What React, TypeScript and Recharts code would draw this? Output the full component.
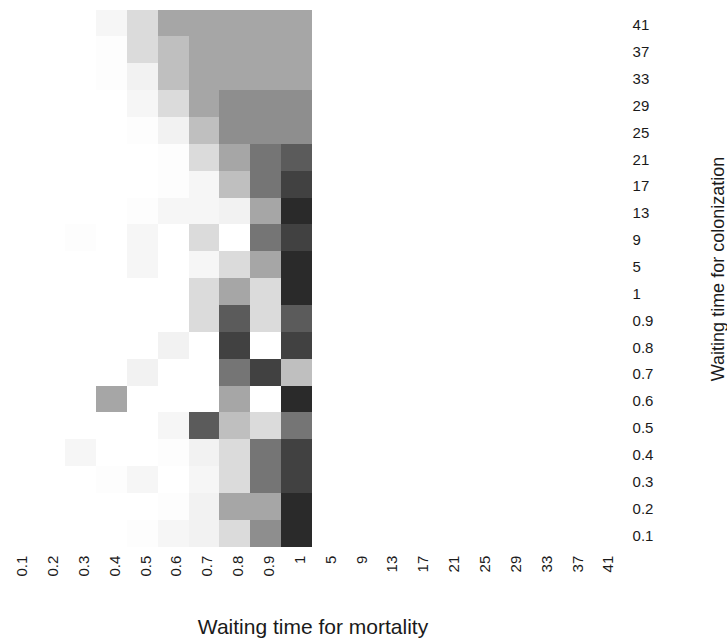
import React from 'react';
import { BarChart, Bar, XAxis, YAxis, Cell, Label } from 'recharts';

// Waiting time for mortality (columns, left to right)
const mortalityLabels = ['0.1', '0.2', '0.3', '0.4', '0.5', '0.6', '0.7', '0.8', '0.9', '1', '5', '9', '13', '17', '21', '25', '29', '33', '37', '41'];
// Waiting time for colonization (rows, bottom to top)
const colonizationLabels = ['0.1', '0.2', '0.3', '0.4', '0.5', '0.6', '0.7', '0.8', '0.9', '1', '5', '9', '13', '17', '21', '25', '29', '33', '37', '41'];

// Cell intensity (0 = white, 100 = darkest), rows from colonization 41 (top) down to 0.1 (bottom),
// columns mortality 0.1 .. 1 (no cells drawn for mortality 5 .. 41)
const row41 = [0, 0, 0, 4, 17, 42, 42, 42, 42, 42];
const row37 = [0, 0, 0, 1, 17, 30, 42, 42, 42, 42];
const row33 = [0, 0, 0, 1, 6, 30, 42, 42, 42, 42];
const row29 = [0, 0, 0, 0, 4, 17, 42, 53, 53, 53];
const row25 = [0, 0, 0, 0, 1, 6, 30, 53, 53, 53];
const row21 = [0, 0, 0, 0, 0, 1, 17, 42, 65, 77];
const row17 = [0, 0, 0, 0, 0, 1, 4, 30, 65, 89];
const row13 = [0, 0, 0, 0, 1, 4, 4, 6, 42, 100];
const row9 = [0, 0, 1, 0, 4, 0, 17, 0, 65, 89];
const row5 = [0, 0, 0, 0, 4, 0, 4, 17, 42, 100];
const row1 = [0, 0, 0, 0, 0, 0, 17, 42, 17, 100];
const row09 = [0, 0, 0, 0, 0, 0, 17, 77, 17, 77];
const row08 = [0, 0, 0, 0, 0, 6, 0, 89, 0, 89];
const row07 = [0, 0, 0, 0, 6, 0, 0, 65, 89, 30];
const row06 = [0, 0, 0, 42, 0, 0, 0, 42, 0, 100];
const row05 = [0, 0, 0, 0, 0, 4, 77, 30, 17, 65];
const row04 = [0, 0, 4, 0, 0, 1, 6, 17, 65, 89];
const row03 = [0, 0, 0, 1, 4, 0, 4, 17, 65, 89];
const row02 = [0, 0, 0, 0, 0, 1, 6, 42, 42, 100];
const row01 = [0, 0, 0, 0, 1, 4, 6, 17, 53, 100];

// indexed bottom to top, matching colonizationLabels
const shade = [row01, row02, row03, row04, row05, row06, row07, row08, row09, row1,
  row5, row9, row13, row17, row21, row25, row29, row33, row37, row41];

const grey = (v: number) => {
  const g = Math.round(255 - v * 2.13);
  return `rgb(${g},${g},${g})`;
};

const data = mortalityLabels.map((m, ci) => {
  const d: Record<string, any> = { m };
  colonizationLabels.forEach((_, ri) => {
    if (ci < shade[ri].length) d[`c${ri}`] = 1;
  });
  return d;
});

const yTicks = colonizationLabels.map((_, i) => i + 0.5);

const FONT = '"Liberation Sans", Arial, Helvetica, sans-serif';

const XTick = (props: any) => {
  const { x, y, payload } = props;
  const tx = x + 3;
  return (
    <text x={tx} y={y} transform={`rotate(-90 ${tx} ${y})`} textAnchor="end" dy="0.355em"
      fontSize={15} fontFamily={FONT} fill="#1a1a1a">
      {payload.value}
    </text>
  );
};

const YTick = (props: any) => {
  const { x, y, payload } = props;
  const label = colonizationLabels[Math.floor(payload.value)];
  return (
    <text x={x} y={y + 2} textAnchor="start" dy="0.355em" fontSize={15} fontFamily={FONT} fill="#1a1a1a">
      {label}
    </text>
  );
};

export default function App() {
  return (
    <div style={{ position: 'absolute', left: 0, top: 0, width: 727, height: 639, background: '#fff' }}>
      <BarChart width={727} height={639} data={data}
        margin={{ top: 9.5, right: 46.4, bottom: 32.3, left: 3.4 }}
        barCategoryGap={0} barGap={0}>
        <XAxis dataKey="m" type="category" interval={0} axisLine={false} tickLine={false}
          tickSize={0} tickMargin={9} height={60} tick={<XTick />}>
          <Label content={(p: any) => {
            const vb = p.viewBox || { x: 3.4, y: 546.7, width: 617.2, height: 60 };
            return (
              <text x={vb.x + vb.width / 2 + 1} y={634} textAnchor="middle" fontSize={21}
                fontFamily={FONT} fill="#1a1a1a">Waiting time for mortality</text>
            );
          }} />
        </XAxis>
        <YAxis type="number" orientation="right" domain={[0, 20]} ticks={yTicks} interval={0}
          axisLine={false} tickLine={false} tickSize={0} tickMargin={12} width={60} tick={<YTick />}>
          <Label content={(p: any) => {
            const vb = p.viewBox || { x: 620.6, y: 9.5, width: 60, height: 537.2 };
            const cx = vb.x + 97.5;
            const cy = 269;
            return (
              <text x={cx} y={cy} transform={`rotate(-90 ${cx} ${cy})`} textAnchor="middle" dy="0.355em"
                fontSize={18} fontFamily={FONT} fill="#1a1a1a">Waiting time for colonization</text>
            );
          }} />
        </YAxis>
        {colonizationLabels.map((c, ri) => (
          <Bar key={c} dataKey={`c${ri}`} stackId="grid" isAnimationActive={false} shapeRendering="crispEdges">
            {data.map((d, ci) => (
              <Cell key={d.m} fill={ci < shade[ri].length ? grey(shade[ri][ci]) : 'none'} stroke="none" />
            ))}
          </Bar>
        ))}
      </BarChart>
    </div>
  );
}
